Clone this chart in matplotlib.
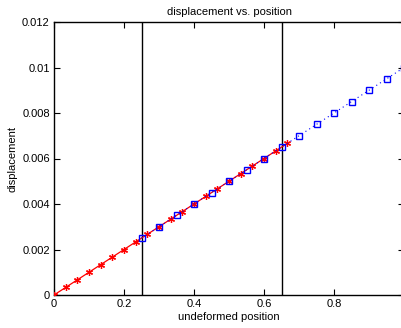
import numpy as np
import matplotlib
matplotlib.use("Agg")
import matplotlib.pyplot as plt

# data
red_x = [i / 30 for i in range(21)]
red_y = [0.01 * v for v in red_x]
blue_x = [0.25, 0.30, 0.35, 0.40, 0.45, 0.50, 0.55, 0.60, 0.65, 0.70, 0.75, 0.80, 0.85, 0.90, 0.95, 1.00]
blue_y = [0.0025, 0.0030, 0.0035, 0.0040, 0.0045, 0.0050, 0.0055, 0.0060, 0.0065, 0.0070, 0.0075, 0.0080, 0.0085, 0.0090, 0.0095, 0.0100]
vlines_x = [0.25, 0.65]
xticks = [0, 0.2, 0.4, 0.6, 0.8, 1.0]
xtick_labels = ["0", "0.2", "0.4", "0.6", "0.8", "1"]
yticks = [0, 0.002, 0.004, 0.006, 0.008, 0.010, 0.012]
ytick_labels = ["0", "0.002", "0.004", "0.006", "0.008", "0.01", "0.012"]

plt.rcParams['font.family'] = ['Liberation Sans', 'DejaVu Sans']
fig = plt.figure(figsize=(4.01, 3.28), dpi=100)
W, H = 401, 328
ax = fig.add_axes([54 / W, (H - 295) / H, 350 / W, 273 / H])

ax.plot(red_x, red_y, color='red', lw=0.9, marker=(6, 2, 0), ms=5, mew=0.9, zorder=3)
ax.plot(blue_x, blue_y, color='blue', lw=0.8, ls=(0, (1, 3)), marker='s', ms=4.5,
        mfc='none', mec='blue', mew=1.0, zorder=4)
for xv in vlines_x:
    ax.axvline(xv, color='black', lw=1.0, zorder=2)

ax.set_xlim(0, 1)
ax.set_ylim(0, 0.012)
ax.set_xticks(xticks)
ax.set_xticklabels(xtick_labels)
ax.set_yticks(yticks)
ax.set_yticklabels(ytick_labels)
ax.tick_params(direction='in', top=True, right=True, labelsize=8, length=4, pad=3)
for s in ax.spines.values():
    s.set_linewidth(1.0)
ax.set_title("displacement vs. position", fontsize=8, pad=5)
ax.set_xlabel("undeformed position", fontsize=8, labelpad=2)
ax.set_ylabel("displacement", fontsize=8, labelpad=3)

fig.savefig("out.png", dpi=100)
